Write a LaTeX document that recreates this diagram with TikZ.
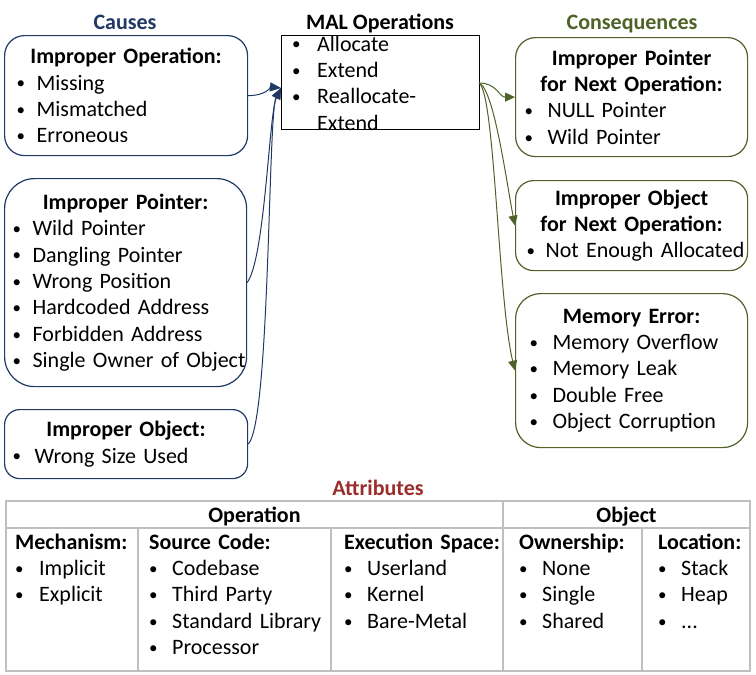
\documentclass[tikz,border=0pt]{standalone}
\usepackage{fontspec}
\setmainfont{Carlito}
\usetikzlibrary{arrows.meta}
\definecolor{ursache}{RGB}{32,56,100}
\definecolor{folge}{RGB}{79,98,40}
\definecolor{attribut}{RGB}{155,45,42}
\definecolor{gitter}{RGB}{191,191,191}
\newcommand{\pkt}[2][23pt]{\makebox[#1][l]{\raisebox{1.2pt}{\fontsize{17}{17}\selectfont\textbullet}}\mbox{#2}\par}
\begin{document}
\begin{tikzpicture}[x=1pt,y=-1pt]
  \tikzstyle{schrift}=[font=\fontsize{22}{26.4}\selectfont]
  \tikzstyle{titel}=[font=\fontsize{22}{26.4}\selectfont\bfseries,inner sep=0pt,anchor=base]
  \tikzstyle{ursache box}=[draw=ursache,line width=1.2pt,anchor=north west,inner ysep=0pt,align=left,schrift]
  \tikzstyle{folge box}=[draw=folge,line width=1.2pt,anchor=north west,inner ysep=0pt,align=left,schrift]
  \tikzstyle{ursache pfeil}=[draw=ursache,line width=1pt,-{Triangle[length=11pt,width=9pt]}]
  \tikzstyle{folge pfeil}=[draw=folge,line width=1pt,-{Triangle[length=10pt,width=9pt]}]
  \tikzstyle{spalte}=[anchor=base west,inner sep=0pt,align=left,schrift]
  \tikzstyle{gitter linie}=[draw=gitter,line width=1.4pt]

  \useasboundingbox (0,0) rectangle (756,675);

  % Ueberschriften
  \node[titel,text=ursache] (ursachen) at (125,29) {Causes};
  \node[titel] (maltitel) at (380,29) {MAL Operations};
  \node[titel,text=folge] (folgen) at (632,29) {Consequences};
  \node[titel,text=attribut] (attribute) at (378,495) {Attributes};

  % Ursachen
  \node[ursache box,rounded corners=20pt,inner xsep=12pt,text width=219pt,minimum height=120pt] (fehlop) at (4,35)
    {{\centering\bfseries Improper Operation:\par}
     \pkt[20pt]{Missing}\pkt[20pt]{Mismatched}\pkt[20pt]{Erroneous}};
  \node[ursache box,rounded corners=30pt,inner xsep=8pt,text width=226pt,minimum height=208pt] (fehlzeiger) at (4,178)
    {{\centering\bfseries Improper Pointer:\par}
     \pkt[20pt]{Wild Pointer}\pkt[20pt]{Dangling Pointer}\pkt[20pt]{Wrong Position}
     \pkt[20pt]{Hardcoded Address}\pkt[20pt]{Forbidden Address}\pkt[20pt]{Single Owner of Object}};
  \node[ursache box,rounded corners=15pt,inner xsep=8pt,text width=227pt,minimum height=69pt] (fehlobjekt) at (4,409)
    {{\centering\bfseries Improper Object:\par}
     \pkt[22pt]{Wrong Size Used}};

  % MAL Operationen
  \node[draw,line width=1.2pt,anchor=north west,minimum width=198pt,minimum height=94pt] (mal) at (281,35) {};
  \node[spalte,text width=180pt] (malliste) at (292,51)
    {\pkt[25pt]{Allocate}\pkt[25pt]{Extend}\pkt[25pt]{Reallocate-}\hspace*{25pt}Extend};
  \coordinate (malein) at (281,88);
  \coordinate (malaus) at (479,83);

  % Folgen
  \node[folge box,rounded corners=20pt,inner xsep=9pt,text width=214pt,minimum height=119pt] (folgezeiger) at (515,37)
    {{\centering\bfseries Improper Pointer\\for Next Operation:\par}
     \pkt{NULL Pointer}\pkt{Wild Pointer}};
  \node[folge box,rounded corners=18pt,inner xsep=11pt,text width=210pt,minimum height=90pt] (folgeobjekt) at (515,180)
    {{\centering\bfseries Improper Object\\for Next Operation:\par}
     \pkt[19pt]{Not Enough Allocated}};
  \node[folge box,rounded corners=25pt,inner xsep=14pt,text width=204pt,minimum height=154pt] (speicherfehler) at (515,293)
    {{\centering\bfseries Memory Error:\par}
     \pkt{Memory Overflow}\pkt{Memory Leak}\pkt{Double Free}\pkt{Object Corruption}};

  % Pfeile
  \draw[ursache pfeil] (fehlop.east) .. controls +(18,0) and +(-10,-1) .. (malein);
  \draw[ursache pfeil] (fehlzeiger.east) .. controls +(18,-25) and +(-12,25) .. (malein);
  \draw[ursache pfeil] (fehlobjekt.east) .. controls +(22,-22) and +(-13,25) .. (malein);
  \draw[folge pfeil] (malaus) .. controls +(18,0) and +(-16,0) .. (folgezeiger.west);
  \draw[folge pfeil] (malaus) .. controls +(15,5) and +(-8,-40) .. (folgeobjekt.west);
  \draw[folge pfeil] (malaus) .. controls +(16,10) and +(-17,-70) .. (speicherfehler.west);

  % Tabelle Attribute
  \draw[gitter linie] (6,501) rectangle (750,671);
  \draw[gitter linie] (6,528) -- (750,528);
  \draw[gitter linie] (503,501) -- (503,671);
  \foreach \x in {138,331,642}
    \draw[gitter linie] (\x,528) -- (\x,671);
  \node[titel] (operation) at (254.5,522) {Operation};
  \node[titel] (objekt) at (626.5,522) {Object};
  \node[spalte,text width=120pt] (mechanismus) at (15,549)
    {\textbf{Mechanism:}\par\pkt[24pt]{Implicit}\pkt[24pt]{Explicit}};
  \node[spalte,text width=180pt] (quellcode) at (149,549)
    {\textbf{Source Code:}\par\pkt{Codebase}\pkt{Third Party}\pkt{Standard Library}\pkt{Processor}};
  \node[spalte,text width=160pt] (ausfuehrung) at (344,549)
    {\textbf{Execution Space:}\par\pkt{Userland}\pkt{Kernel}\pkt{Bare-Metal}};
  \node[spalte,text width=120pt] (besitz) at (519,549)
    {\textbf{Ownership:}\par\pkt{None}\pkt{Single}\pkt{Shared}};
  \node[spalte,text width=95pt] (ort) at (658,549)
    {\textbf{Location:}\par\pkt{Stack}\pkt{Heap}\pkt{...}};
\end{tikzpicture}
\end{document}
